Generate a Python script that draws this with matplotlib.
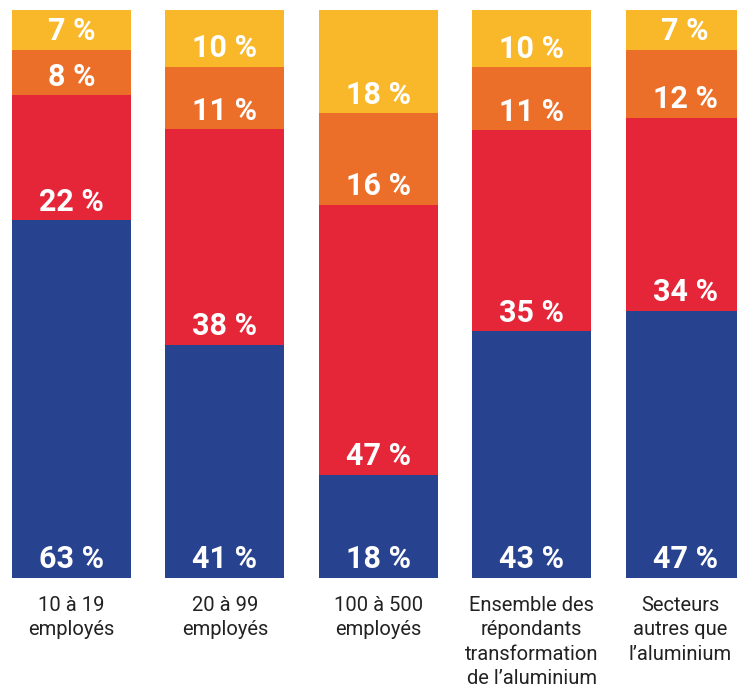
import numpy as np
import matplotlib
matplotlib.use("Agg")
import matplotlib.pyplot as plt
from matplotlib import transforms

categories = ["10 à 19\nemployés", "20 à 99\nemployés", "100 à 500\nemployés",
              "Ensemble des\nrépondants\ntransformation\nde l’aluminium",
              "Secteurs\nautres que\nl’aluminium"]
blue = np.array([63, 41, 18, 43, 47])
red = np.array([22, 38, 47, 35, 34])
orange = np.array([8, 11, 16, 11, 12])
yellow = np.array([7, 10, 18, 10, 7])

colors = ["#27428f", "#e52538", "#ec6f29", "#f9b72a"]
series = [blue, red, orange, yellow]

# bars are stretched to fill the full height (some totals are 99)
total = blue + red + orange + yellow
scaled = [s / total * 100 for s in series]

fig = plt.figure(figsize=(7.37, 6.87), dpi=100)
ax = fig.add_axes([0, 109 / 687, 1, 568 / 687])

x = np.arange(len(categories))
w = 0.776
bottom = np.zeros(len(x))
for vals, raw, col in zip(scaled, series, colors):
    ax.bar(x, vals, w, bottom=bottom, color=col, linewidth=0)
    for xi, b, r in zip(x, bottom, raw):
        ax.text(xi, b + 1.7, f"{r} %", ha="center", va="baseline",
                color="white", fontsize=22, fontweight="bold", family="Roboto")
    bottom = bottom + vals

ax.set_xlim(-0.466, 4.338)
ax.set_ylim(0, 100)
ax.axis("off")

trans = transforms.blended_transform_factory(ax.transData, ax.transAxes)
for xi, lab in zip(x, categories):
    xx = xi - 0.03 if xi == 4 else xi
    ax.text(xx, -0.031, lab, ha="center", va="top", transform=trans,
            fontsize=14.5, color="#222222", family="Roboto", linespacing=1.37)

fig.savefig("out.png", dpi=100)
